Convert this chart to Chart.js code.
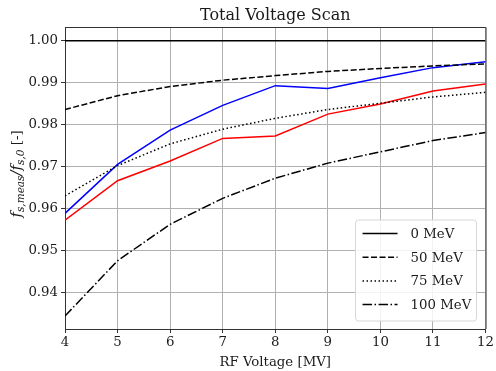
<!DOCTYPE html>
<html>
<head>
<meta charset="utf-8">
<script src="https://cdn.jsdelivr.net/npm/chart.js@4.4.1/dist/chart.umd.min.js"></script>
<style>
  html, body { margin: 0; padding: 0; background: #fff; }
  canvas { display: block; }
</style>
</head>
<body>
<canvas id="scanChart" width="496" height="371"></canvas>
<script>
// RF voltage scan values
const voltages = [4, 5, 6, 7, 8, 9, 10, 11, 12];
const mev0 = [1.0, 1.0, 1.0, 1.0, 1.0, 1.0, 1.0, 1.0, 1.0];
const mev50 = [0.9836, 0.9869, 0.9891, 0.9906, 0.9917, 0.9927, 0.9934, 0.9940, 0.9945];
const mev75 = [0.9630, 0.9702, 0.9754, 0.9789, 0.9815, 0.9836, 0.9851, 0.9866, 0.9877];
const mev100 = [0.9343, 0.9475, 0.9562, 0.9624, 0.9672, 0.9708, 0.9735, 0.9762, 0.9781];
const measBlue = [0.9588, 0.9705, 0.9787, 0.9846, 0.9893, 0.9886, 0.9912, 0.9936, 0.9950];
const measRed = [0.9572, 0.9666, 0.9713, 0.9767, 0.9773, 0.9825, 0.9849, 0.9880, 0.9897];
const yTicks = [0.94, 0.95, 0.96, 0.97, 0.98, 0.99, 1.00];
const chartTitle = 'Total Voltage Scan';

const FONT = "'DejaVu Serif', serif";

const pts = arr => voltages.map((v, i) => ({ x: v, y: arr[i] }));

function line(label, arr, color, dash, inLegend) {
    return {
        label: label,
        data: pts(arr),
        borderColor: color,
        backgroundColor: color,
        borderWidth: 1.5,
        borderDash: dash,
        borderCapStyle: 'butt',
        pointRadius: 0,
        tension: 0,
        inLegend: inLegend
    };
}

// frame on top/right like matplotlib spines, title centred over the plot
const frame = {
    id: 'frame',
    afterDatasetsDraw(chart) {
        const { ctx, chartArea: a } = chart;
        ctx.save();
        ctx.strokeStyle = '#333';
        ctx.lineWidth = 1;
        ctx.beginPath();
        ctx.moveTo(a.left, a.top + 0.5);
        ctx.lineTo(a.right + 0.5, a.top + 0.5);
        ctx.lineTo(a.right + 0.5, a.bottom);
        ctx.stroke();

        ctx.font = '16px ' + FONT;
        ctx.fillStyle = '#1a1a1a';
        ctx.textAlign = 'center';
        ctx.textBaseline = 'alphabetic';
        ctx.fillText(chartTitle, (a.left + a.right) / 2, a.top - 7);
        ctx.restore();
    }
};

// legend drawn inside the plot, lower right
const insideLegend = {
    id: 'insideLegend',
    afterDatasetsDraw(chart) {
        const { ctx, chartArea: a } = chart;
        const items = chart.data.datasets.filter(d => d.inLegend);
        const w = 121, h = 101;
        const x0 = a.right - 9 - w, y0 = a.bottom - 8 - h;
        const r = 3;
        ctx.save();
        ctx.beginPath();
        ctx.moveTo(x0 + r, y0);
        ctx.arcTo(x0 + w, y0, x0 + w, y0 + h, r);
        ctx.arcTo(x0 + w, y0 + h, x0, y0 + h, r);
        ctx.arcTo(x0, y0 + h, x0, y0, r);
        ctx.arcTo(x0, y0, x0 + w, y0, r);
        ctx.closePath();
        ctx.fillStyle = 'rgba(255,255,255,0.85)';
        ctx.fill();
        ctx.strokeStyle = '#d6d6d6';
        ctx.lineWidth = 1;
        ctx.stroke();

        ctx.font = '13.3px ' + FONT;
        ctx.textBaseline = 'middle';
        ctx.fillStyle = '#1a1a1a';
        items.forEach((d, i) => {
            const cy = y0 + 13.5 + i * 23.7;
            ctx.strokeStyle = d.borderColor;
            ctx.lineWidth = d.borderWidth;
            ctx.setLineDash(d.borderDash || []);
            ctx.beginPath();
            ctx.moveTo(x0 + 7, cy);
            ctx.lineTo(x0 + 42, cy);
            ctx.stroke();
            ctx.setLineDash([]);
            ctx.fillText(d.label, x0 + 55, cy + 1);
        });
        ctx.restore();
    }
};

// y label with subscripts: f_{s,meas}/f_{s,0} [-]
const yLabel = {
    id: 'yLabel',
    afterDraw(chart) {
        const { ctx, chartArea: a } = chart;
        const parts = [
            { t: 'f', f: 'italic 15px ' + FONT, dy: 0 },
            { t: 's,meas', f: 'italic 10.5px ' + FONT, dy: 3 },
            { t: '/', f: 'italic 15px ' + FONT, dy: 0 },
            { t: 'f', f: 'italic 15px ' + FONT, dy: 0 },
            { t: 's,0', f: 'italic 10.5px ' + FONT, dy: 3 },
            { t: ' [-]', f: '13.3px ' + FONT, dy: 0 }
        ];
        ctx.save();
        let total = 0;
        parts.forEach(p => { ctx.font = p.f; p.w = ctx.measureText(p.t).width; total += p.w; });
        ctx.translate(21, (a.top + a.bottom) / 2 - 4);
        ctx.rotate(-Math.PI / 2);
        ctx.fillStyle = '#1a1a1a';
        ctx.textBaseline = 'alphabetic';
        let x = -total / 2;
        parts.forEach(p => {
            ctx.font = p.f;
            ctx.fillText(p.t, x, p.dy);
            x += p.w;
        });
        ctx.restore();
    }
};

new Chart(document.getElementById('scanChart').getContext('2d'), {
    type: 'line',
    data: {
        datasets: [
            line('0 MeV', mev0, '#000', [], true),
            line('50 MeV', mev50, '#000', [6, 2.5], true),
            line('75 MeV', mev75, '#000', [1.5, 2.5], true),
            line('100 MeV', mev100, '#000', [9.5, 2.5, 1.5, 2.5], true),
            line('meas blue', measBlue, '#0000ff', [], false),
            line('meas red', measRed, '#ff0000', [], false)
        ]
    },
    options: {
        responsive: false,
        animation: false,
        layout: { padding: { left: 0, right: 9, top: 27, bottom: 0 } },
        plugins: {
            legend: { display: false },
            tooltip: { enabled: false },
            title: { display: false }
        },
        scales: {
            x: {
                type: 'linear',
                min: 4,
                max: 12,
                afterBuildTicks: s => { s.ticks = voltages.map(v => ({ value: v })); },
                afterFit: s => { s.height = 42; },
                grid: { color: '#b0b0b0', tickColor: '#333', tickLength: 4, lineWidth: 1 },
                border: { color: '#333', width: 1 },
                ticks: {
                    color: '#1a1a1a',
                    padding: 2,
                    maxRotation: 0,
                    font: { family: FONT, size: 13.3 }
                },
                title: {
                    display: true,
                    text: 'RF Voltage [MV]',
                    color: '#1a1a1a',
                    font: { family: FONT, size: 13.3 },
                    padding: { top: 0, bottom: 0 }
                }
            },
            y: {
                min: 0.9312,
                max: 1.0033,
                afterBuildTicks: s => { s.ticks = yTicks.map(v => ({ value: v })); },
                afterFit: s => { s.width = 65; },
                grid: { color: '#b0b0b0', tickColor: '#333', tickLength: 4, lineWidth: 1 },
                border: { color: '#333', width: 1 },
                ticks: {
                    color: '#1a1a1a',
                    padding: 3,
                    font: { family: FONT, size: 13.3 },
                    callback: v => v.toFixed(2)
                }
            }
        }
    },
    plugins: [frame, insideLegend, yLabel]
});
</script>
</body>
</html>
